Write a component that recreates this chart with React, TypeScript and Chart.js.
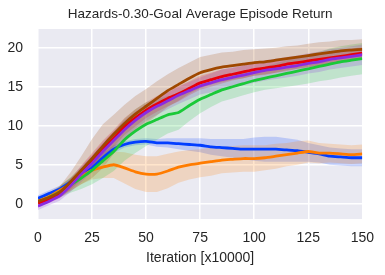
import React, { useEffect, useRef } from "react";
import { Chart, registerables } from "chart.js";

Chart.register(...registerables);

const titleText = "Hazards-0.30-Goal Average Episode Return";
const xAxisLabel = "Iteration [x10000]";
const iterations = [0, 5, 10, 15, 20, 25, 30, 35, 40, 45, 50, 55, 60, 65, 70, 75, 80, 85, 90, 95, 100, 105, 110, 115, 120, 125, 130, 135, 140, 145, 150];
const xTicks = [0, 25, 50, 75, 100, 125, 150];
const yTicks = [0, 5, 10, 15, 20];

const blueMean = [0.7, 1.3, 1.9, 2.8, 3.7, 4.6, 5.9, 7.0, 7.6, 7.9, 8.0, 7.8, 7.8, 7.7, 7.6, 7.5, 7.3, 7.2, 7.1, 7.0, 7.0, 7.0, 7.0, 6.9, 6.8, 6.6, 6.4, 6.1, 6.0, 5.9, 5.9];
const blueStd = [0.4, 0.4, 0.4, 0.5, 0.5, 0.6, 0.6, 0.5, 0.4, 0.4, 0.4, 0.5, 0.6, 0.7, 0.8, 0.9, 1.0, 1.1, 1.2, 1.3, 1.5, 1.6, 1.6, 1.5, 1.4, 1.2, 1.1, 1.1, 1.1, 1.1, 1.1];

const orangeMean = [0.3, 0.9, 1.7, 2.5, 3.5, 4.3, 4.7, 5.0, 4.6, 4.1, 3.8, 3.8, 4.2, 4.7, 5.0, 5.2, 5.4, 5.6, 5.7, 5.8, 5.8, 5.9, 6.1, 6.3, 6.5, 6.7, 6.5, 6.5, 6.4, 6.3, 6.4];
const orangeStd = [0.4, 0.5, 0.6, 0.8, 1.0, 1.2, 1.4, 1.7, 2.0, 2.2, 2.3, 2.3, 2.2, 2.0, 1.9, 1.8, 1.8, 1.7, 1.7, 1.7, 1.7, 1.6, 1.6, 1.5, 1.5, 1.4, 1.3, 1.2, 1.2, 1.2, 1.2];

const greenMean = [0.2, 0.8, 1.5, 2.4, 3.3, 4.3, 5.5, 6.7, 8.2, 9.3, 10.2, 10.8, 11.4, 11.7, 12.6, 13.4, 14.0, 14.6, 15.0, 15.4, 15.8, 16.1, 16.4, 16.7, 17.0, 17.3, 17.6, 17.9, 18.2, 18.4, 18.6];
const greenStd = [0.4, 0.5, 0.7, 1.0, 1.4, 1.8, 2.2, 2.5, 2.7, 2.8, 2.8, 2.6, 2.4, 2.2, 2.0, 1.8, 1.6, 1.5, 1.5, 1.5, 1.5, 1.5, 1.6, 1.7, 1.8, 1.9, 1.9, 2.0, 2.0, 2.0, 2.0];

const redMean = [0.1, 0.5, 1.2, 2.5, 4.0, 5.5, 7.0, 8.4, 9.9, 11.0, 12.0, 12.8, 13.5, 14.1, 14.8, 15.5, 15.9, 16.3, 16.6, 16.9, 17.2, 17.4, 17.6, 17.9, 18.1, 18.3, 18.5, 18.7, 18.9, 19.1, 19.3];
const redStd = [0.4, 0.4, 0.5, 0.7, 0.9, 1.0, 1.1, 1.1, 1.1, 1.1, 1.0, 1.0, 1.0, 1.0, 0.9, 0.9, 0.9, 0.9, 0.8, 0.8, 0.8, 0.8, 0.8, 0.8, 0.8, 0.8, 0.8, 0.8, 0.8, 0.8, 0.8];

const purpleMean = [-0.3, 0.3, 1.0, 2.3, 3.8, 5.2, 6.7, 8.1, 9.5, 10.7, 11.7, 12.5, 13.2, 13.9, 14.5, 15.1, 15.5, 15.9, 16.2, 16.5, 16.8, 17.1, 17.3, 17.5, 17.7, 18.0, 18.2, 18.5, 18.7, 18.9, 19.1];
const purpleStd = [0.5, 0.5, 0.6, 0.8, 1.0, 1.1, 1.2, 1.2, 1.2, 1.1, 1.1, 1.1, 1.1, 1.1, 1.1, 1.1, 1.2, 1.3, 1.3, 1.3, 1.3, 1.3, 1.3, 1.3, 1.3, 1.3, 1.3, 1.3, 1.3, 1.3, 1.3];

const brownMean = [0.3, 0.8, 1.5, 2.8, 4.3, 5.8, 7.4, 8.9, 10.3, 11.5, 12.5, 13.5, 14.5, 15.3, 16.1, 16.8, 17.2, 17.5, 17.7, 17.9, 18.1, 18.2, 18.4, 18.6, 18.8, 19.0, 19.2, 19.4, 19.6, 19.7, 19.8];
const brownStd = [0.4, 0.5, 0.7, 1.2, 1.8, 2.5, 2.8, 2.5, 2.4, 2.3, 2.2, 2.2, 2.1, 2.1, 2.0, 2.0, 1.9, 1.9, 1.8, 1.8, 1.7, 1.7, 1.6, 1.6, 1.5, 1.5, 1.5, 1.4, 1.4, 1.3, 1.3];

const seriesList = [
  { mean: blueMean, std: blueStd, color: "#023eff", rgb: "2,62,255" },
  { mean: orangeMean, std: orangeStd, color: "#ff7c00", rgb: "255,124,0" },
  { mean: greenMean, std: greenStd, color: "#1ac938", rgb: "26,201,56" },
  { mean: redMean, std: redStd, color: "#e8000b", rgb: "232,0,11" },
  { mean: purpleMean, std: purpleStd, color: "#8b2be2", rgb: "139,43,226" },
  { mean: brownMean, std: brownStd, color: "#9f4800", rgb: "159,72,0" },
];

const FONT = "'Liberation Sans', Arial, sans-serif";
const TEXT = "#262626";

const bgPlugin = {
  id: "plotBg",
  beforeDraw(chart: any) {
    const { ctx, chartArea } = chart;
    ctx.save();
    ctx.fillStyle = "#eaeaf2";
    ctx.fillRect(chartArea.left, chartArea.top, chartArea.right - chartArea.left, chartArea.bottom - chartArea.top);
    ctx.restore();
  },
  afterDraw(chart: any) {
    const { ctx, chartArea } = chart;
    ctx.save();
    ctx.fillStyle = TEXT;
    ctx.font = `13.5px ${FONT}`;
    ctx.textAlign = "center";
    ctx.textBaseline = "middle";
    ctx.fillText(titleText, (chartArea.left + chartArea.right) / 2, 14);
    ctx.restore();
  },
};

export default function App() {
  const ref = useRef<HTMLCanvasElement>(null);
  useEffect(() => {
    const datasets: any[] = [];
    const n = seriesList.length;
    seriesList.forEach((s, i) => {
      const upper = iterations.map((x, k) => ({ x, y: s.mean[k] + s.std[k] }));
      const lower = iterations.map((x, k) => ({ x, y: s.mean[k] - s.std[k] }));
      const upIndex = datasets.length;
      datasets.push({
        data: upper,
        borderWidth: 0,
        pointRadius: 0,
        backgroundColor: `rgba(${s.rgb},0.2)`,
        fill: upIndex + 1,
        order: 100 + (n - i),
      });
      datasets.push({
        data: lower,
        borderWidth: 0,
        pointRadius: 0,
        fill: false,
        order: 100 + (n - i),
      });
    });
    seriesList.forEach((s, i) => {
      datasets.push({
        data: iterations.map((x, k) => ({ x, y: s.mean[k] })),
        borderColor: s.color,
        borderWidth: 2.8,
        pointRadius: 0,
        fill: false,
        tension: 0.15,
        order: n - i,
      });
    });
    const chart = new Chart(ref.current!, {
      type: "line",
      data: { datasets },
      options: {
        animation: false,
        responsive: false,
        events: [],
        layout: { padding: { left: 0, right: 21, top: 29, bottom: 0 } },
        plugins: {
          legend: { display: false },
          tooltip: { enabled: false },
          title: { display: false },
        },
        scales: {
          x: {
            type: "linear",
            min: 0,
            max: 150,
            afterBuildTicks: (scale: any) => {
              scale.ticks = xTicks.map((v) => ({ value: v }));
            },
            afterFit: (scale: any) => {
              scale.height = 56;
            },
            ticks: { color: TEXT, font: { family: FONT, size: 14 }, padding: 11, maxRotation: 0 },
            grid: { color: "#ffffff", lineWidth: 1.5, drawTicks: false },
            border: { display: false },
            title: {
              display: true,
              text: xAxisLabel,
              color: TEXT,
              font: { family: FONT, size: 14 },
              padding: { top: 0, bottom: 8 },
            },
          },
          y: {
            type: "linear",
            min: -1.95,
            max: 22.4,
            afterBuildTicks: (scale: any) => {
              scale.ticks = yTicks.map((v) => ({ value: v }));
            },
            afterFit: (scale: any) => {
              scale.width = 38;
            },
            ticks: { color: TEXT, font: { family: FONT, size: 14 }, padding: 15 },
            grid: { color: "#ffffff", lineWidth: 1.5, drawTicks: false },
            border: { display: false },
          },
        },
      },
      plugins: [bgPlugin],
    } as any);
    return () => chart.destroy();
  }, []);
  return (
    <div style={{ position: "fixed", left: 0, top: 0, width: 385, height: 275, background: "#fff" }}>
      <canvas ref={ref} width={385} height={275} style={{ display: "block" }} />
    </div>
  );
}
